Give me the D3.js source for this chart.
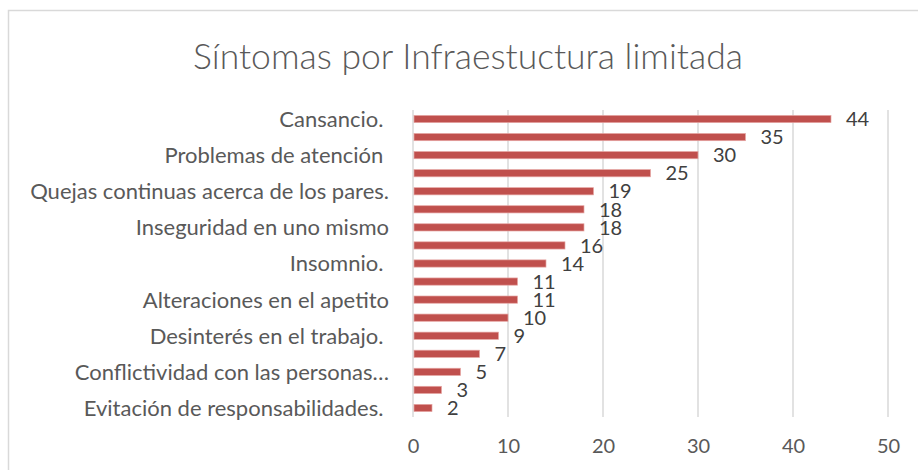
<!DOCTYPE html>
<html>
<head>
<meta charset="utf-8">
<script src="https://cdn.jsdelivr.net/npm/d3@7"></script>
<style>
  body { margin: 0; background: #fff; }
  text { font-family: "Lato", "Open Sans", sans-serif; }
</style>
</head>
<body>
<div id="grafico"></div>
<script>
const WIDTH = 918;
const HEIGHT = 470;

// categorias (solo se ven una de cada dos en el original)
const categories = [
    "Cansancio. ", "", "Problemas de atención ", "", "Quejas continuas acerca de los pares.", "",
    "Inseguridad en uno mismo", "", "Insomnio. ", "", "Alteraciones en el apetito", "",
    "Desinterés en el trabajo. ", "", "Conflictividad con las personas…", "", "Evitación de responsabilidades. "
];
const values = [44, 35, 30, 25, 19, 18, 18, 16, 14, 11, 11, 10, 9, 7, 5, 3, 2];
const xTicks = [0, 10, 20, 30, 40, 50];
const title = "Síntomas por Infraestuctura limitada";

let svg = d3.select("#grafico")
    .append("svg")
    .attr("width", WIDTH)
    .attr("height", HEIGHT);

// marco del grafico
svg.append("rect")
    .attr("x", 8.5)
    .attr("y", 10.5)
    .attr("width", WIDTH)
    .attr("height", HEIGHT)
    .style("fill", "none")
    .style("stroke", "#d9d9d9")
    .style("stroke-width", 1.5);

svg.append("text")
    .attr("x", 468)
    .attr("y", 69)
    .attr("text-anchor", "middle")
    .style("font-size", "35.5px")
    .style("font-weight", "300")
    .style("fill", "#595959")
    .text(title);

let x = d3.scaleLinear()
    .domain([0, 50])
    .range([413, 888]);

let y = d3.scaleBand()
    .domain(d3.range(values.length))
    .range([110, 417])
    .paddingInner(0.6)
    .paddingOuter(0.3);

// lineas de la grilla
svg.append("g")
    .selectAll("line")
    .data(xTicks)
    .enter()
    .append("line")
    .attr("x1", d => x(d))
    .attr("x2", d => x(d))
    .attr("y1", 110)
    .attr("y2", 417)
    .style("stroke", "#d9d9d9")
    .style("stroke-width", 1.5);

let xAxis = svg.append("g")
    .attr("transform", "translate(0,417)")
    .call(d3.axisBottom(x).tickValues(xTicks).tickSize(0).tickPadding(22));
xAxis.select(".domain").remove();
xAxis.selectAll("text")
    .style("font-family", "Lato, 'Open Sans', sans-serif")
    .style("font-size", "20px")
    .style("fill", "#595959");

svg.append("g")
    .selectAll("rect")
    .data(values)
    .enter()
    .append("rect")
    .attr("x", x(0) + 1)
    .attr("y", (d, i) => y(i))
    .attr("width", d => x(d) - x(0) - 1)
    .attr("height", y.bandwidth())
    .style("fill", "#c0504d")
    .style("stroke", "#e6a5a3")
    .style("stroke-width", 0.7);

svg.append("g")
    .selectAll("text")
    .data(values)
    .enter()
    .append("text")
    .attr("x", d => x(d) + 15)
    .attr("y", (d, i) => y(i) + y.bandwidth() / 2)
    .attr("dy", "0.36em")
    .style("font-size", "20px")
    .style("fill", "#404040")
    .text(d => d);

svg.append("g")
    .selectAll("text")
    .data(categories)
    .enter()
    .append("text")
    .attr("x", 389)
    .attr("y", (d, i) => y(i) + y.bandwidth() / 2)
    .attr("dy", "0.36em")
    .attr("text-anchor", "end")
    .style("white-space", "pre")
    .style("font-size", "22px")
    .style("fill", "#595959")
    .text(d => d);
</script>
</body>
</html>
